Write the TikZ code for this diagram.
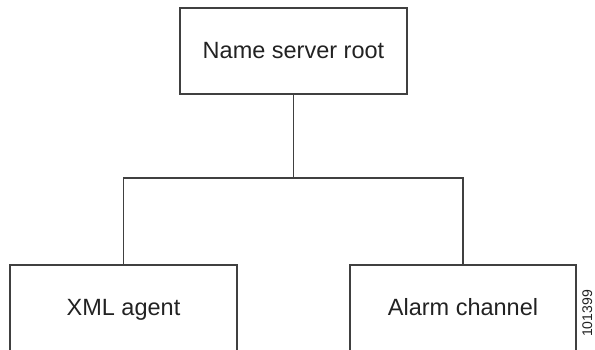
\documentclass[tikz,border=0pt]{standalone}
\usepackage{fontspec}
\setmainfont{Liberation Sans}
\definecolor{linegray}{HTML}{404040}
\definecolor{textgray}{HTML}{222222}
\begin{document}
\begin{tikzpicture}[x=1pt,y=1pt,
  box/.style={draw=linegray,line width=1.1pt,rectangle,inner sep=0pt},
  lbl/.style={text=textgray,font=\fontsize{23.5}{28}\selectfont,inner sep=0pt,anchor=base},
  wire/.style={draw=linegray,line width=1.1pt}]
\useasboundingbox (0,0) rectangle (595,349);
\node[box,minimum width=227,minimum height=86,text=textgray,font=\fontsize{23.5}{28}\selectfont] (root) at (293.5,298) {Name server root};
\node[box,minimum width=227,minimum height=110] (xml) at (123.5,29) {};
\node[box,minimum width=226,minimum height=110] (alarm) at (463,29) {};
\node[lbl] (xmlt) at (123.5,34) {XML agent};
\node[lbl] (alarmt) at (463,34) {Alarm channel};
\coordinate (bus) at (293.5,171);
\draw[wire] (root.south) -- (bus);
\draw[wire] (xml.north) |- (bus) -| (alarm.north);
\node[rotate=90,anchor=south east,inner sep=0pt,text=textgray,font=\fontsize{14}{16}\selectfont] (fig) at (592.5,59) {101399};
\end{tikzpicture}
\end{document}
